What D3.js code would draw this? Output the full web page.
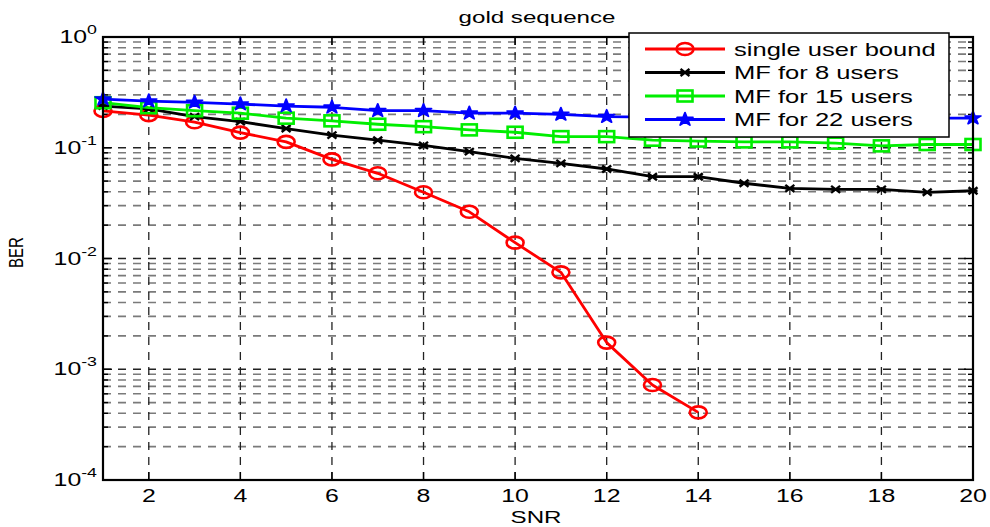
<!DOCTYPE html>
<html><head><meta charset="utf-8">
<script src="https://cdn.jsdelivr.net/npm/d3@7"></script>
<style>body{margin:0;background:#fff}svg{display:block;font-family:Arial,"Liberation Sans",sans-serif}</style>
</head><body><svg id="c" width="990" height="527"></svg>
<script>
const snr = d3.range(1, 21);
const singleUser = [0.215,0.197,0.170,0.137,0.113,0.0786,0.0588,0.0396,0.0264,0.0139,0.0075,0.00174,0.00072,0.000408];
const mf8  = [0.238,0.224,0.191,0.172,0.149,0.130,0.117,0.105,0.0922,0.0802,0.0723,0.0643,0.0548,0.0548,0.0478,0.0430,0.0421,0.0421,0.0396,0.0409];
const mf15 = [0.255,0.230,0.216,0.205,0.185,0.175,0.163,0.155,0.145,0.138,0.126,0.126,0.117,0.115,0.113,0.113,0.110,0.104,0.107,0.107];
const mf22 = [0.275,0.264,0.257,0.248,0.238,0.232,0.216,0.216,0.205,0.205,0.200,0.191,0.189,0.188,0.187,0.187,0.186,0.186,0.185,0.185];
const xTicks = [2,4,6,8,10,12,14,16,18,20];
const yExps = [0,-1,-2,-3,-4];
const seriesNames = ["single user bound","MF for 8 users","MF for 15 users","MF for 22 users"];
const seriesColors = ["#ff0000","#000000","#00ee00","#0000ff"];
const seriesMarkers = ["circle","asterisk","square","star"];
const seriesData = [singleUser, mf8, mf15, mf22];

const SX = 1.42; // horizontal stretch of the reference text
const svg = d3.select("#c");
const L=103, R=973, T=37, B=480;
const x = d3.scaleLinear().domain([1,20]).range([L,R]);
const y = d3.scaleLog().domain([1e-4,1]).range([B,T]);

function stext(parent, px, py, str, size, anchor){
  return parent.append("text").attr("transform",`translate(${px},${py}) scale(${SX},1)`)
    .attr("font-size",size).attr("text-anchor",anchor||"start").text(str);
}

// grid
const g = svg.append("g");
const minorVals = [];
for (let e=-4;e<0;e++) for (let m=2;m<=9;m++) minorVals.push(m*Math.pow(10,e));
g.selectAll(".mi").data(minorVals).join("line")
  .attr("x1",L).attr("x2",R).attr("y1",d=>y(d)).attr("y2",d=>y(d))
  .attr("stroke","#7a7a7a").attr("stroke-width",1.6).attr("stroke-dasharray","8,7");
g.selectAll(".ma").data(yExps.slice(1,4)).join("line")
  .attr("x1",L).attr("x2",R).attr("y1",d=>y(Math.pow(10,d))).attr("y2",d=>y(Math.pow(10,d)))
  .attr("stroke","#222").attr("stroke-width",1.4).attr("stroke-dasharray","8,7");
g.selectAll(".vx").data(xTicks.slice(0,-1)).join("line")
  .attr("x1",d=>x(d)).attr("x2",d=>x(d)).attr("y1",T).attr("y2",B)
  .attr("stroke","#222").attr("stroke-width",1.3).attr("stroke-dasharray","8,7");

// ticks on axes (inside)
const tk = svg.append("g").attr("stroke","#000").attr("stroke-width",1.4);
minorVals.forEach(v=>{
  tk.append("line").attr("x1",L).attr("x2",L+5).attr("y1",y(v)).attr("y2",y(v));
  tk.append("line").attr("x1",R).attr("x2",R-5).attr("y1",y(v)).attr("y2",y(v));
});
yExps.forEach(e=>{
  const v=Math.pow(10,e);
  tk.append("line").attr("x1",L).attr("x2",L+9).attr("y1",y(v)).attr("y2",y(v));
  tk.append("line").attr("x1",R).attr("x2",R-9).attr("y1",y(v)).attr("y2",y(v));
});
xTicks.forEach(t=>{
  tk.append("line").attr("x1",x(t)).attr("x2",x(t)).attr("y1",B).attr("y2",B-8);
  tk.append("line").attr("x1",x(t)).attr("x2",x(t)).attr("y1",T).attr("y2",T+8);
});

// series
const line = d3.line().x((d,i)=>x(snr[i])).y(d=>y(d));
function marker(sel, type, color){
  if(type==="circle"){
    sel.append("ellipse").attr("rx",8.5).attr("ry",6).attr("fill","none").attr("stroke",color).attr("stroke-width",2.6);
  } else if(type==="square"){
    sel.append("rect").attr("x",-7.5).attr("y",-5.5).attr("width",15).attr("height",11).attr("fill","none").attr("stroke",color).attr("stroke-width",2.6);
  } else if(type==="star"){
    sel.append("path").attr("d",d3.symbol(d3.symbolStar,55)()).attr("transform","scale(1.2,1)").attr("fill",color).attr("stroke",color).attr("stroke-width",1.5).attr("stroke-linejoin","round");
  } else {
    const a = sel.append("g").attr("stroke",color).attr("stroke-width",2.4);
    a.append("line").attr("x1",-4.5).attr("x2",4.5).attr("y1",-3.5).attr("y2",3.5);
    a.append("line").attr("x1",-4.5).attr("x2",4.5).attr("y1",3.5).attr("y2",-3.5);
    a.append("line").attr("x1",-4.5).attr("x2",4.5).attr("y1",0).attr("y2",0);
  }
}
[0,1,2,3].forEach(k=>{
  const data=seriesData[k];
  svg.append("path").attr("d",line(data)).attr("fill","none").attr("stroke",seriesColors[k]).attr("stroke-width",2.8).attr("stroke-linejoin","round");
  data.forEach((d,i)=>{
    const m = svg.append("g").attr("transform",`translate(${x(snr[i])},${y(d)})`);
    marker(m, seriesMarkers[k], seriesColors[k]);
  });
});

// axes box
svg.append("rect").attr("x",L).attr("y",T).attr("width",R-L).attr("height",B-T).attr("fill","none").attr("stroke","#000").attr("stroke-width",2.2);

// tick labels
xTicks.forEach(t=>stext(svg, x(t), B+22, String(t), 17.5, "middle"));
yExps.forEach(e=>{
  const v=Math.pow(10,e);
  const tx = svg.append("text").attr("transform",`translate(${L-6},${y(v)+6}) scale(${SX},1)`).attr("text-anchor","end").attr("font-size",17.5);
  tx.append("tspan").text("10");
  tx.append("tspan").attr("dy",-9).attr("font-size",12.5).text(e);
});

// title & labels
stext(svg, 537, 23, "gold sequence", 17, "middle");
stext(svg, 536, 523, "SNR", 17, "middle");
svg.append("text").attr("transform",`translate(23,${(T+B)/2 - 6}) rotate(-90) scale(1,1.3)`).attr("text-anchor","middle").attr("font-size",15).text("BER");

// legend
const lg = svg.append("g");
lg.append("rect").attr("x",629).attr("y",33).attr("width",320).attr("height",104).attr("fill","#fff").attr("stroke","#000").attr("stroke-width",1.5);
seriesNames.forEach((n,k)=>{
  const yy = 49 + k*23.5;
  lg.append("line").attr("x1",645).attr("x2",725).attr("y1",yy).attr("y2",yy).attr("stroke",seriesColors[k]).attr("stroke-width",2.8);
  const m = lg.append("g").attr("transform",`translate(685,${yy})`);
  marker(m, seriesMarkers[k], seriesColors[k]);
  stext(lg, 734, yy+6.5, n, 18);
});
</script></body></html>
